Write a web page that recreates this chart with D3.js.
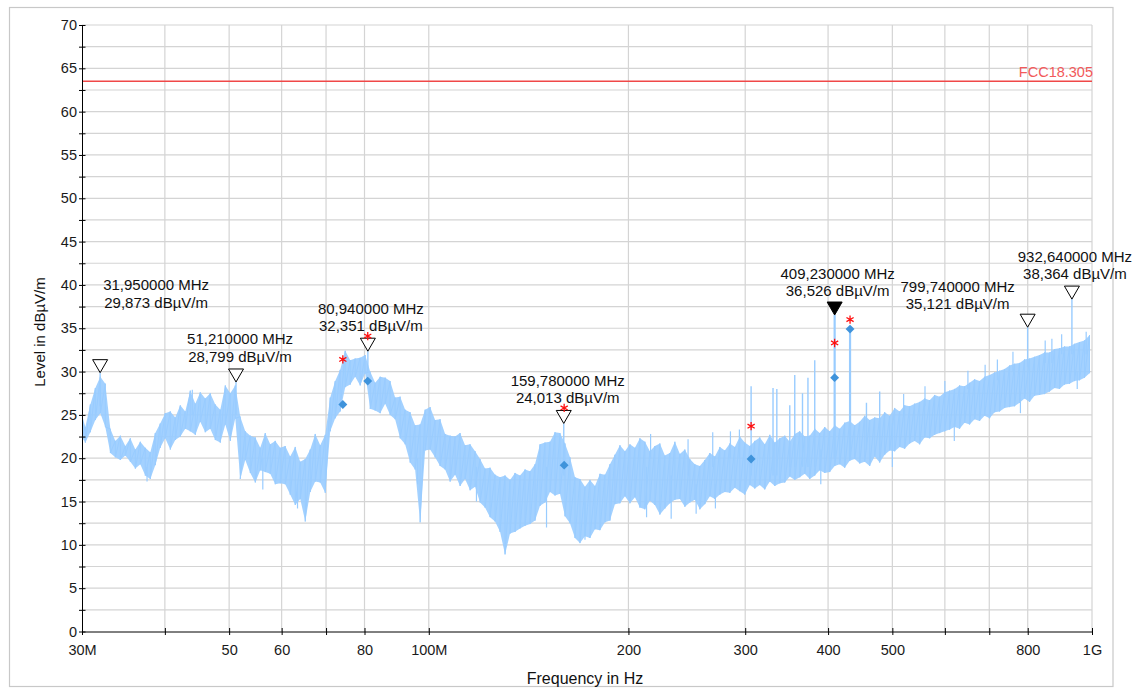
<!DOCTYPE html>
<html>
<head>
<meta charset="utf-8">
<script src="https://cdn.jsdelivr.net/npm/d3@7"></script>
<style>
  html, body { margin: 0; padding: 0; background: #fff; }
  svg { display: block; font-family: "Liberation Sans", Arial, Helvetica, sans-serif; }
</style>
</head>
<body>
<svg id="chart" width="1137" height="688"></svg>
<script>
// ---- Scan data (frequency in MHz, level in dBµV/m) ----
const scanMHz = [
  30.0,30.35,30.88,31.42,31.97,32.53,33.10,33.68,34.27,34.87,
  35.48,36.10,36.73,37.37,38.03,38.69,39.36,40.05,40.76,41.47,
  42.20,42.94,43.69,44.46,45.23,46.02,46.83,47.65,48.49,49.34,
  50.20,51.08,51.97,52.88,53.81,54.75,55.70,56.68,57.67,58.68,
  59.71,60.75,61.81,62.90,64.00,65.12,66.26,67.42,68.60,69.80,
  71.02,72.26,73.52,74.81,76.12,77.45,78.80,80.18,81.59,83.02,
  84.47,85.95,87.44,88.97,90.53,92.12,93.73,95.37,97.04,98.74,
  100.46,102.22,104.01,105.83,107.68,109.57,111.48,113.43,115.42,117.44,
  119.49,121.58,123.71,125.87,128.07,130.31,132.59,134.91,137.27,139.68,
  142.12,144.61,147.13,149.71,152.33,154.99,157.70,160.46,163.27,166.13,
  169.03,171.99,175.0,178.06,181.17,184.34,187.56,190.84,194.18,197.58,
  201.04,204.55,208.13,211.77,215.48,219.25,223.08,226.98,230.95,235.0,
  239.11,243.29,247.54,251.87,256.28,260.76,265.32,269.97,274.69,279.49,
  284.38,289.36,294.42,299.57,304.81,310.14,315.57,321.09,326.71,332.42,
  338.24,344.16,350.18,356.30,362.54,368.88,375.33,381.90,388.58,395.38,
  402.30,409.33,416.49,423.78,431.19,438.74,446.41,454.22,462.17,470.26,
  478.48,486.85,495.37,504.04,512.85,521.83,530.96,540.24,549.70,559.31,
  569.10,579.05,589.18,599.49,609.98,620.65,631.51,642.56,653.80,665.24,
  676.88,688.72,700.77,713.03,725.51,738.20,751.12,764.26,777.63,791.24,
  805.08,819.17,833.50,848.08,862.92,878.02,893.38,909.01,924.92,941.10,
  957.57,974.32,991.37
];
// highest reading in each frequency bin
const scanHi = [
  25.0,23.6,26.2,28.1,29.4,28.6,23.4,22.0,22.6,21.4,
  22.3,21.0,21.9,21.2,20.7,22.9,24.0,25.2,25.4,24.7,
  26.1,25.4,27.8,26.3,27.6,26.9,27.5,26.2,25.6,28.4,
  27.5,28.4,24.8,23.1,22.6,22.4,21.2,22.9,21.6,22.0,
  21.2,21.4,20.2,21.3,19.6,19.9,21.0,22.8,21.5,22.7,
  27.0,28.9,30.2,32.4,31.3,31.5,31.6,31.9,30.0,28.7,
  29.4,29.3,28.9,27.0,27.1,25.6,25.3,23.8,23.9,25.6,
  25.9,24.4,24.5,22.8,22.6,22.5,22.9,21.5,21.6,20.8,
  19.9,18.8,18.9,18.1,17.8,18.0,17.5,18.3,18.0,18.7,
  18.5,19.3,21.6,21.8,21.9,23.0,22.9,21.7,20.1,17.8,
  17.6,16.7,17.5,16.8,18.2,18.1,19.3,20.4,21.5,20.8,
  21.6,21.2,22.3,21.9,20.8,21.4,21.7,20.3,20.6,21.9,
  20.5,21.0,19.9,19.3,19.1,19.8,20.6,20.2,21.3,20.9,
  21.7,21.3,22.5,21.8,21.4,22.0,22.4,21.6,22.7,21.8,
  22.3,22.6,21.9,22.8,23.1,22.5,22.6,23.4,22.9,23.6,
  23.1,23.8,23.4,24.1,24.3,23.8,24.2,24.9,24.4,24.7,
  24.6,25.3,24.9,25.8,25.4,26.1,26.0,26.3,26.5,26.9,
  26.7,27.3,27.1,27.6,27.8,28.0,28.4,28.3,28.7,29.1,
  28.9,29.4,29.6,29.9,30.1,30.3,30.7,30.9,31.0,31.4,
  31.5,31.7,31.9,32.2,32.2,32.6,32.7,32.9,32.9,33.2,
  33.4,33.6,34.2
];
// lowest reading in each frequency bin
const scanLo = [
  22.4,21.8,23.0,24.4,25.2,23.6,20.6,20.1,19.8,20.3,
  19.6,18.8,19.3,18.0,17.6,19.2,21.2,22.3,21.0,22.1,
  22.5,23.4,23.1,22.7,24.2,23.0,23.4,22.1,21.8,23.9,
  22.0,24.6,17.6,19.8,18.3,17.2,18.6,18.4,18.2,17.0,
  17.1,17.0,15.8,14.6,15.3,12.7,16.1,17.3,17.2,16.0,
  23.1,24.6,25.4,28.2,28.5,29.4,28.4,29.8,25.7,25.5,
  25.2,26.3,25.0,24.5,22.3,21.6,19.5,18.7,12.6,20.9,
  21.0,20.1,19.1,18.7,17.3,18.1,16.8,17.6,16.3,16.7,
  14.9,14.3,13.2,12.7,11.5,8.9,11.3,11.5,11.9,12.2,
  12.4,12.8,14.5,14.9,16.1,15.7,15.9,13.3,12.5,10.8,
  10.2,11.0,10.8,11.8,11.7,12.6,12.8,14.7,14.8,15.6,
  14.8,15.5,14.3,14.1,15.1,14.6,13.5,14.2,14.8,15.2,
  15.3,14.4,14.9,15.2,14.1,14.7,15.6,15.3,15.8,16.1,
  16.0,16.6,16.2,15.8,16.9,16.5,16.9,16.4,17.3,16.8,
  17.1,17.2,17.9,17.5,17.8,18.2,17.6,18.0,18.6,18.3,
  18.4,19.1,19.3,18.9,19.7,19.9,19.4,19.6,19.1,20.2,
  19.5,20.4,20.9,20.8,21.3,21.1,21.7,22.0,21.6,22.4,
  22.3,22.7,22.9,23.1,23.3,23.6,23.4,24.1,23.9,24.5,
  24.3,24.9,24.6,25.3,25.4,25.8,25.9,26.0,26.4,26.9,
  26.5,27.2,27.3,27.4,27.7,28.1,28.0,28.5,28.6,28.9,
  29.0,29.3,29.8
];

// Short noise excursions past the band edges: [MHz], from level, to level
const burstMHz  = [37.6, 44.0, 56.2, 63.4, 96.2, 118.0, 150.5, 172.0, 213.0, 216.0, 232.0, 246.0, 253.0, 268.0, 270.5, 285.0, 294.0, 390.0, 500.0, 520.0, 560.0, 600.0, 620.0, 650.0, 690.0, 720.0, 760.0, 780.0, 850.0, 870.0, 900.0, 950.0, 980.0];
const burstFrom = [19.0, 25.0, 20.0, 17.0, 20.0, 19.0, 19.0, 15.0, 19.0, 20.0, 18.0, 18.0, 17.0, 19.0, 17.0, 20.0, 20.0, 21.0, 24.0, 25.0, 26.0, 27.0, 24.0, 28.0, 29.0, 29.0, 30.0, 27.0, 31.0, 31.0, 32.0, 30.0, 32.0];
const burstTo   = [17.3, 27.9, 16.4, 14.2, 17.0, 15.0, 12.0, 10.6, 13.2, 22.8, 13.0, 22.2, 13.6, 23.0, 14.2, 23.1, 23.3, 17.0, 19.0, 27.4, 28.3, 28.9, 22.0, 30.1, 30.8, 31.4, 32.3, 25.2, 33.6, 33.8, 34.3, 28.0, 34.6];

// Narrowband emissions rising out of the noise floor
const spikeMHz  = [31.95, 51.21, 80.94, 159.78, 306.2, 330.4, 334.8, 350.2, 356.3, 366.0, 373.0, 381.9, 409.23, 431.7, 457.0, 478.5, 799.74, 932.64];
const spikeBase = [26.0, 25.0, 30.0, 18.0, 18.0, 18.0, 18.0, 19.0, 19.0, 19.0, 19.0, 19.0, 20.0, 20.0, 21.0, 21.0, 30.5, 32.0];
const spikePeak = [29.873, 28.799, 32.351, 24.013, 28.3, 28.1, 28.0, 26.1, 29.6, 27.5, 29.3, 31.3, 36.526, 35.2, 26.4, 27.7, 35.121, 38.364];

// Peak markers
const peakMHz   = [31.95, 51.21, 80.94, 159.78, 409.23, 799.74, 932.64];
const peakLevel = [29.873, 28.799, 32.351, 24.013, 36.526, 35.121, 38.364];
const activePeak = 4;

// Final measurements: quasi-peak (red) and average (blue)
const finalMHz = [74.2, 80.9, 160.0, 306.2, 409.2, 431.7];
const qpLevel  = [31.4, 34.1, 25.8, 23.7, 33.3, 36.0];
const avLevel  = [26.2, 28.9, 19.2, 19.9, 29.3, 34.9];

// Limit line
const limitName = "FCC18.305";
const limitLevel = 63.5;

// Axes
const xTickMHz  = [30, 40, 50, 60, 70, 80, 100, 200, 300, 400, 500, 600, 700, 800, 1000];
const xTickText = ["30M", "", "50", "60", "", "80", "100M", "200", "300", "400", "500", "", "", "800", "1G"];
const yTickLevels = [0, 2.5, 5, 7.5, 10, 12.5, 15, 17.5, 20, 22.5, 25, 27.5, 30, 32.5, 35, 37.5, 40, 42.5, 45, 47.5, 50, 52.5, 55, 57.5, 60, 62.5, 65, 67.5, 70];

// ---- Layout ----
const plot = { left: 82, right: 1092, top: 25, bottom: 631.5 };
const traceColor = "#99ccff";
const fontTick = 14.5, fontNote = 15;
// label placement relative to each marker tip: [dx, baseline of 2nd line]
const labelShift = [[56, -65], [4, -20], [3, -20], [4, -20], [3, -19], [-70, -18], [3, -20]];

const x = d3.scaleLog().domain([30, 1000]).range([plot.left, plot.right]);
const y = d3.scaleLinear().domain([0, 70]).range([plot.bottom, plot.top]);

const svg = d3.select("#chart");

// outer frame
svg.append("rect")
  .attr("x", 9.5).attr("y", 7.5).attr("width", 1103.5).attr("height", 679)
  .attr("fill", "none").attr("stroke", "#c8c8c8").attr("stroke-width", 1.2);

// grid
const grid = svg.append("g").attr("stroke", "#d4d4d4").attr("stroke-width", 1.2);
grid.selectAll("line.gx").data(xTickMHz.slice(1)).join("line")
  .attr("x1", d => x(d)).attr("x2", d => x(d))
  .attr("y1", plot.top).attr("y2", plot.bottom);
grid.selectAll("line.gy").data(yTickLevels.slice(1)).join("line")
  .attr("x1", plot.left).attr("x2", plot.right)
  .attr("y1", d => y(d)).attr("y2", d => y(d));

// limit line
svg.append("line")
  .attr("x1", plot.left).attr("x2", plot.right)
  .attr("y1", y(limitLevel)).attr("y2", y(limitLevel))
  .attr("stroke", "#f04848").attr("stroke-width", 1.4);
svg.append("text")
  .attr("x", plot.right + 1).attr("y", y(limitLevel) - 4)
  .attr("text-anchor", "end").attr("fill", "#f25a5a")
  .attr("font-size", fontTick).text(limitName);

// clip for the trace
svg.append("clipPath").attr("id", "plotClip").append("rect")
  .attr("x", plot.left).attr("y", plot.top)
  .attr("width", plot.right - plot.left).attr("height", plot.bottom - plot.top);

const traceG = svg.append("g").attr("clip-path", "url(#plotClip)");

// noise band
const band = scanMHz.map((f, i) => ({ f, hi: scanHi[i], lo: scanLo[i] }));
traceG.append("path")
  .datum(band)
  .attr("fill", traceColor).attr("fill-opacity", 0.9)
  .attr("d", d3.area().x(d => x(d.f)).y0(d => y(d.lo)).y1(d => y(d.hi)));

// scan trace: sweeps between the maximum and minimum seen in each bin
const tracePts = [];
band.forEach(d => { tracePts.push([d.f, d.hi]); tracePts.push([d.f, d.lo]); });
traceG.append("path")
  .datum(tracePts)
  .attr("fill", "none").attr("stroke", traceColor).attr("stroke-width", 1)
  .attr("stroke-linejoin", "round")
  .attr("d", d3.line().x(d => x(d[0])).y(d => y(d[1])));

// noise excursions
traceG.selectAll("line.burst").data(burstMHz).join("line")
  .attr("x1", d => x(d)).attr("x2", d => x(d))
  .attr("y1", (d, i) => y(burstFrom[i])).attr("y2", (d, i) => y(burstTo[i]))
  .attr("stroke", traceColor).attr("stroke-width", 1.2);

// emission spikes
traceG.selectAll("line.spike").data(spikeMHz).join("line")
  .attr("x1", d => x(d)).attr("x2", d => x(d))
  .attr("y1", (d, i) => y(spikeBase[i])).attr("y2", (d, i) => y(spikePeak[i]))
  .attr("stroke", traceColor)
  .attr("stroke-width", (d, i) => spikePeak[i] > 34 && d < 500 ? 2.2 : 1.4);

// average results (blue diamonds)
svg.selectAll("path.av").data(finalMHz).join("path")
  .attr("transform", (d, i) => `translate(${x(d)},${y(avLevel[i])}) rotate(45)`)
  .attr("d", d3.symbol(d3.symbolSquare, 40)())
  .attr("fill", "#3f93db");

// peak markers (downward triangles, tip at the level)
const tri = "M0,0 L-7.5,-13 L7.5,-13 Z";
svg.selectAll("path.peak").data(peakMHz).join("path")
  .attr("transform", (d, i) => `translate(${x(d)},${y(peakLevel[i])})`)
  .attr("d", tri)
  .attr("fill", (d, i) => i === activePeak ? "#000" : "#fff")
  .attr("stroke", "#000").attr("stroke-width", 1);

// quasi-peak results (red asterisks)
svg.selectAll("path.qp").data(finalMHz).join("path")
  .attr("transform", (d, i) => `translate(${x(d)},${y(qpLevel[i])})`)
  .attr("d", d3.symbol(d3.symbolAsterisk, 48)())
  .attr("fill", "none").attr("stroke", "#ff1010").attr("stroke-width", 1.3);

// marker labels
const comma = s => s.replace(".", ",");
const notes = svg.append("g").attr("font-size", fontNote).attr("fill", "#111").attr("text-anchor", "middle");
peakMHz.forEach((f, i) => {
  const cx = x(f) + labelShift[i][0];
  const by = y(peakLevel[i]) + labelShift[i][1];
  notes.append("text").attr("x", cx).attr("y", by - 17.5).text(comma(f.toFixed(6)) + " MHz");
  notes.append("text").attr("x", cx).attr("y", by).text(comma(peakLevel[i].toFixed(3)) + " dBµV/m");
});

// y axis
const yAxis = svg.append("g")
  .attr("transform", `translate(${plot.left},0)`)
  .call(d3.axisLeft(y).tickValues(yTickLevels)
    .tickFormat(d => d % 5 === 0 ? String(d) : "")
    .tickSizeInner(3).tickSizeOuter(0).tickPadding(2));
yAxis.selectAll(".tick line").attr("x1", 3.5).attr("stroke", "#000");
yAxis.select(".domain").attr("stroke", "#000");
yAxis.selectAll("text").attr("font-size", fontTick).attr("fill", "#1a1a1a")
  .attr("font-family", "'Liberation Sans', Arial, sans-serif");

// x axis
const xAxis = svg.append("g")
  .attr("transform", `translate(0,${plot.bottom})`)
  .call(d3.axisBottom(x).tickValues(xTickMHz)
    .tickFormat((d, i) => xTickText[i])
    .tickSizeInner(3.5).tickSizeOuter(0).tickPadding(10));
xAxis.selectAll(".tick line").attr("y1", -3.5).attr("stroke", "#000");
xAxis.select(".domain").attr("stroke", "#000");
xAxis.selectAll("text").attr("font-size", fontTick).attr("fill", "#1a1a1a")
  .attr("font-family", "'Liberation Sans', Arial, sans-serif");

// axis titles
svg.append("text")
  .attr("transform", "translate(45,332) rotate(-90)")
  .attr("text-anchor", "middle").attr("font-size", fontNote).attr("fill", "#111")
  .text("Level in dBµV/m");
svg.append("text")
  .attr("x", 585).attr("y", 684)
  .attr("text-anchor", "middle").attr("font-size", 16).attr("fill", "#111")
  .text("Frequency in Hz");
</script>
</body>
</html>
